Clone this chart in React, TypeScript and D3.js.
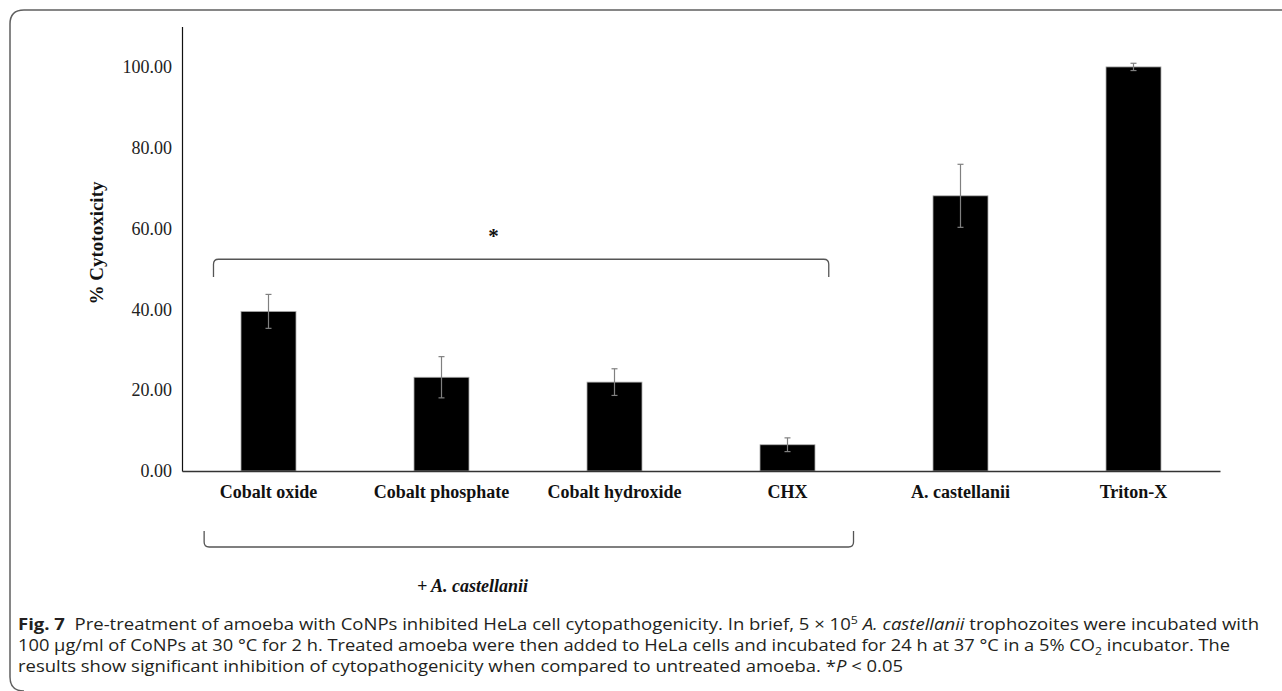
import React, { useEffect, useRef } from 'react';
import * as d3 from 'd3';

// values
const categories = ['Cobalt oxide', 'Cobalt phosphate', 'Cobalt hydroxide', 'CHX', 'A. castellanii', 'Triton-X'];
const cytotoxicity = [39.5, 23.2, 22.0, 6.5, 68.1, 100.0];
const errors = [4.2, 5.1, 3.3, 1.7, 7.8, 0.9];
const yTicks = [0, 20, 40, 60, 80, 100];
const treatedGroup = ['Cobalt oxide', 'Cobalt phosphate', 'Cobalt hydroxide', 'CHX'];
const groupLabel = '+ A. castellanii';
const significance = '*';

type Seg = { t: string; bold?: boolean; italic?: boolean; shift?: number };
const captionLines: Seg[][] = [
    [
        { t: 'Fig. 7', bold: true },
        { t: '  Pre-treatment of amoeba with CoNPs inhibited HeLa cell cytopathogenicity. In brief, 5 × 10' },
        { t: '5', shift: -6 },
        { t: ' ' },
        { t: 'A. castellanii', italic: true },
        { t: ' trophozoites were incubated with' },
    ],
    [
        { t: '100 µg/ml of CoNPs at 30 °C for 2 h. Treated amoeba were then added to HeLa cells and incubated for 24 h at 37 °C in a 5% CO' },
        { t: '2', shift: 4 },
        { t: ' incubator. The' },
    ],
    [
        { t: 'results show significant inhibition of cytopathogenicity when compared to untreated amoeba. *' },
        { t: 'P', italic: true },
        { t: ' < 0.05' },
    ],
];
const captionEnds = [1259, 1230, 903];

const W = 1282;
const H = 691;
const serif = "'Liberation Serif', 'Times New Roman', serif";

const App: React.FC = () => {
    const svgRef = useRef<SVGSVGElement | null>(null);

    useEffect(() => {
        if (!svgRef.current) return;
        document.body.style.margin = '0';
        const svg = d3.select(svgRef.current);
        svg.selectAll('*').remove();

        const left = 182;
        const right = 1220;
        const bottom = 471;
        const top = 26.5;

        const x = d3.scaleBand<string>()
            .domain(categories)
            .range([left, right])
            .paddingInner(0.682)
            .paddingOuter(0.341);
        const y = d3.scaleLinear().domain([0, 110]).range([bottom, top]);
        const bw = x.bandwidth();
        const cx = (c: string) => (x(c) || 0) + bw / 2;

        // frame of the figure box
        svg.append('path')
            .attr('d', `M10,${H - 14} Q10,${H} 24,${H} M10,${H - 14} L10,24 Q10,10 24,10 L${W},10`)
            .attr('fill', 'none')
            .attr('stroke', '#5f5f5f')
            .attr('stroke-width', 1.5);

        // bars
        svg.append('g')
            .selectAll('rect')
            .data(categories)
            .enter()
            .append('rect')
            .attr('x', (d) => x(d) || 0)
            .attr('y', (_, i) => y(cytotoxicity[i]))
            .attr('width', bw)
            .attr('height', (_, i) => bottom - y(cytotoxicity[i]))
            .attr('fill', '#000')
            .attr('stroke', '#b0b0b0')
            .attr('stroke-width', 0.8);

        // error bars
        const eb = svg.append('g').attr('stroke', '#808080').attr('stroke-width', 1.2);
        categories.forEach((c, i) => {
            const hi = y(cytotoxicity[i] + errors[i]);
            const lo = y(cytotoxicity[i] - errors[i]);
            eb.append('line').attr('x1', cx(c)).attr('x2', cx(c)).attr('y1', hi).attr('y2', lo);
            eb.append('line').attr('x1', cx(c) - 3).attr('x2', cx(c) + 3).attr('y1', hi).attr('y2', hi);
            eb.append('line').attr('x1', cx(c) - 3).attr('x2', cx(c) + 3).attr('y1', lo).attr('y2', lo);
        });

        // axes
        const yAxis = svg.append('g')
            .attr('transform', `translate(${left},0)`)
            .call(d3.axisLeft(y).tickValues(yTicks).tickSize(0).tickPadding(10).tickFormat(d3.format('.2f')));
        yAxis.select('.domain').attr('stroke', '#111').attr('stroke-width', 1.2);
        yAxis.selectAll('text')
            .attr('font-family', serif)
            .attr('font-size', 18)
            .attr('fill', '#222');

        const xAxis = svg.append('g')
            .attr('transform', `translate(0,${bottom})`)
            .call(d3.axisBottom(x).tickSize(0).tickPadding(14));
        xAxis.select('.domain').attr('stroke', '#333').attr('stroke-width', 1.3);
        xAxis.selectAll('text')
            .attr('font-family', serif)
            .attr('font-size', 18)
            .attr('font-weight', 'bold')
            .attr('fill', '#111');

        // y title
        svg.append('text')
            .attr('transform', `translate(103,243) rotate(-90)`)
            .attr('text-anchor', 'middle')
            .attr('font-family', serif)
            .attr('font-size', 19)
            .attr('font-weight', 'bold')
            .attr('fill', '#111')
            .text('% Cytotoxicity');

        // significance bracket over the treated groups
        const first = treatedGroup[0];
        const last = treatedGroup[treatedGroup.length - 1];
        const bL = (x(first) || 0) - bw / 2;
        const bR = (x(last) || 0) + bw * 1.25;
        const bTop = y(52.4);
        const bEnd = y(48);
        const r = 5;
        svg.append('path')
            .attr('d', `M${bL},${bEnd} L${bL},${bTop + r} Q${bL},${bTop} ${bL + r},${bTop} L${bR - r},${bTop} Q${bR},${bTop} ${bR},${bTop + r} L${bR},${bEnd}`)
            .attr('fill', 'none')
            .attr('stroke', '#555')
            .attr('stroke-width', 1.3);
        svg.append('text')
            .attr('x', bL + (bR - bL) * 0.455)
            .attr('y', y(56.5))
            .attr('text-anchor', 'middle')
            .attr('font-family', serif)
            .attr('font-size', 21)
            .attr('font-weight', 'bold')
            .attr('fill', '#111')
            .text(significance);

        // bracket under the treated groups
        const gL = (x(first) || 0) - bw * 0.67;
        const gR = (x(last) || 0) + bw * 1.7;
        const gTop = bottom + 60;
        const gBot = bottom + 76;
        svg.append('path')
            .attr('d', `M${gL},${gTop} L${gL},${gBot - r} Q${gL},${gBot} ${gL + r},${gBot} L${gR - r},${gBot} Q${gR},${gBot} ${gR},${gBot - r} L${gR},${gTop}`)
            .attr('fill', 'none')
            .attr('stroke', '#555')
            .attr('stroke-width', 1.3);
        svg.append('text')
            .attr('x', (x('Cobalt phosphate') || 0) + 3)
            .attr('y', bottom + 121)
            .attr('font-family', serif)
            .attr('font-size', 18)
            .attr('font-weight', 'bold')
            .attr('font-style', 'italic')
            .attr('fill', '#111')
            .text(groupLabel);

        // caption
        captionLines.forEach((segs, li) => {
            const t = svg.append('text')
                .attr('x', 18)
                .attr('y', 630 + li * 21)
                .attr('font-family', "'Open Sans', 'Noto Sans', sans-serif")
                .attr('font-size', 16.5)
                .attr('fill', '#231f20')
                .attr('textLength', captionEnds[li] - 18)
                .attr('lengthAdjust', 'spacingAndGlyphs')
                .style('white-space', 'pre');
            let cur = 0;
            segs.forEach((s) => {
                const sh = s.shift || 0;
                t.append('tspan')
                    .attr('dy', sh - cur)
                    .attr('font-weight', s.bold ? 'bold' : null)
                    .attr('font-style', s.italic ? 'italic' : null)
                    .attr('font-size', sh ? 11 : null)
                    .text(s.t);
                cur = sh;
            });
        });
    }, []);

    return (
        <svg
            ref={svgRef}
            width={W}
            height={H}
            style={{ position: 'absolute', left: 0, top: 0, background: '#fff' }}
        />
    );
};

export default App;
